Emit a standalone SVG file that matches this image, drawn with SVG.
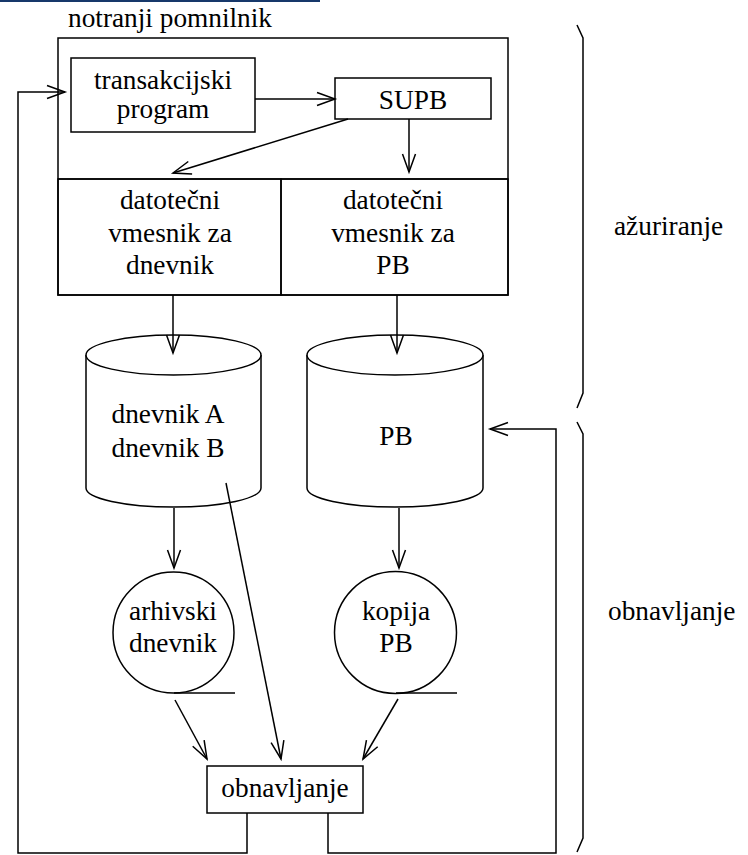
<svg xmlns="http://www.w3.org/2000/svg" width="748" height="855" viewBox="0 0 748 855">
  <style>
    .shape { fill: #fff; stroke: #000; stroke-width: 1.5; }
    .line { fill: none; stroke: #000; stroke-width: 1.5; }
    .lbl { font-family: 'Liberation Serif', 'Times New Roman', serif; font-size: 27.3px; fill: #000; }
    .c { text-anchor: middle; }
  </style>
  <defs>
    <marker id="arrow" markerUnits="userSpaceOnUse" viewBox="-20 -8 22 16" markerWidth="22" markerHeight="16" refX="0" refY="0" orient="auto" overflow="visible">
      <path d="M-18,-6.5 L0,0 L-18,6.5" fill="none" stroke="#000" stroke-width="1.5"/>
    </marker>
  </defs>

  <rect width="748" height="855" fill="#fff"/>
  <!-- top rule -->
  <line x1="0" y1="1" x2="320" y2="1" stroke="#17386a" stroke-width="2"/>

  <!-- main memory enclosure -->
  <g id="memory">
    <text class="lbl" x="68" y="27">notranji pomnilnik</text>
    <rect class="shape" x="58" y="38" width="450" height="257"/>
    <line class="line" x1="58" y1="179" x2="508" y2="179"/>
  </g>

  <g id="transaction-program">
    <rect class="shape" x="71" y="58" width="184" height="74"/>
    <text class="lbl c" x="163" y="89">transakcijski</text>
    <text class="lbl c" x="163" y="118">program</text>
  </g>

  <g id="supb">
    <rect class="shape" x="335" y="78" width="156" height="41"/>
    <text class="lbl c" x="413" y="109">SUPB</text>
  </g>

  <g id="log-buffer">
    <rect class="line" x="58" y="179" width="223" height="116"/>
    <text class="lbl c" x="170" y="209">datotečni</text>
    <text class="lbl c" x="170" y="242">vmesnik za</text>
    <text class="lbl c" x="170" y="274">dnevnik</text>
  </g>

  <g id="db-buffer">
    <rect class="line" x="281" y="179" width="227" height="116"/>
    <text class="lbl c" x="393" y="209">datotečni</text>
    <text class="lbl c" x="393" y="242">vmesnik za</text>
    <text class="lbl c" x="393" y="274">PB</text>
  </g>

  <!-- disk cylinders -->
  <g id="log-disk">
    <path class="shape" d="M86,355 L86,488 A87.5,19 0 0 0 261,488 L261,355"/>
    <ellipse class="shape" cx="173.5" cy="355" rx="87.5" ry="20"/>
    <text class="lbl c" x="168" y="423">dnevnik A</text>
    <text class="lbl c" x="168" y="457">dnevnik B</text>
  </g>

  <g id="db-disk">
    <path class="shape" d="M307,355 L307,488 A88,19 0 0 0 483,488 L483,355"/>
    <ellipse class="shape" cx="395" cy="355" rx="88" ry="20"/>
    <text class="lbl c" x="396" y="445">PB</text>
  </g>

  <!-- tapes -->
  <g id="archive-log">
    <circle class="shape" cx="173.5" cy="632.5" r="60.5"/>
    <line class="line" x1="174" y1="693" x2="235" y2="693"/>
    <text class="lbl c" x="173" y="620">arhivski</text>
    <text class="lbl c" x="173" y="652">dnevnik</text>
  </g>

  <g id="db-copy">
    <circle class="shape" cx="395.5" cy="632.5" r="61"/>
    <line class="line" x1="396" y1="693" x2="457" y2="693"/>
    <text class="lbl c" x="396" y="620">kopija</text>
    <text class="lbl c" x="396" y="652">PB</text>
  </g>

  <g id="recovery">
    <rect class="shape" x="207" y="766" width="156" height="47"/>
    <text class="lbl c" x="285" y="797">obnavljanje</text>
  </g>

  <!-- phase brackets -->
  <g id="phase-update">
    <path class="line" d="M577,25 L583,38 L583,393 L577,408"/>
    <text class="lbl" x="614" y="235">ažuriranje</text>
  </g>

  <g id="phase-recovery">
    <path class="line" d="M577,422 L583,434 L583,838 L577,852"/>
    <text class="lbl" x="608" y="620">obnavljanje</text>
  </g>

  <g id="connectors">
    <line class="line" x1="255" y1="99" x2="335" y2="99" marker-end="url(#arrow)"/>
    <line class="line" x1="348" y1="119" x2="173" y2="173" marker-end="url(#arrow)"/>
    <line class="line" x1="409" y1="119" x2="409" y2="172" marker-end="url(#arrow)"/>
    <line class="line" x1="173" y1="295" x2="173" y2="353" marker-end="url(#arrow)"/>
    <line class="line" x1="397" y1="295" x2="397" y2="353" marker-end="url(#arrow)"/>
    <line class="line" x1="174" y1="508" x2="174" y2="568" marker-end="url(#arrow)"/>
    <line class="line" x1="399" y1="508" x2="399" y2="568" marker-end="url(#arrow)"/>
    <line class="line" x1="175" y1="700" x2="207" y2="759" marker-end="url(#arrow)"/>
    <line class="line" x1="226" y1="483" x2="281" y2="759" marker-end="url(#arrow)"/>
    <line class="line" x1="398" y1="699" x2="363" y2="759" marker-end="url(#arrow)"/>
    <polyline class="line" points="247,813 247,853 18,853 18,92 65,92" marker-end="url(#arrow)"/>
    <polyline class="line" points="328,813 328,853 556,853 556,429 490,429" marker-end="url(#arrow)"/>
  </g>
</svg>
